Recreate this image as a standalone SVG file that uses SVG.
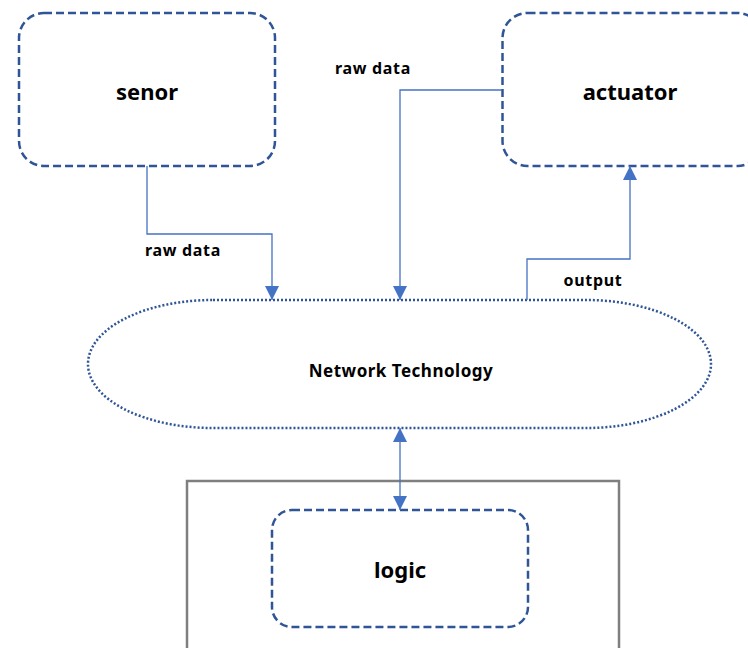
<svg xmlns="http://www.w3.org/2000/svg" width="748" height="648" viewBox="0 0 748 648">
<defs>
<style>
.box{fill:#fff;stroke:#2F5597;stroke-width:2.5;stroke-dasharray:8 4}
.net{fill:#fff;stroke:#2F5597;stroke-width:2.5;stroke-dasharray:2 2}
.wire{fill:none;stroke:#4472C4;stroke-width:1.3}
.t{font-family:"Noto Sans","Noto Sans CJK KR",sans-serif;font-weight:bold;fill:#000;text-anchor:middle}
.big{font-size:22px}
.lab{font-size:16px;letter-spacing:0.7px}
.mid{font-size:17px;letter-spacing:0.5px}
</style>
<marker id="ah" viewBox="0 0 14 14" refX="14" refY="7" markerWidth="14" markerHeight="14" markerUnits="userSpaceOnUse" orient="auto-start-reverse">
<path d="M0,0 L14,7 L0,14 Z" fill="#4472C4"/>
</marker>
</defs>
<rect width="748" height="648" fill="#fff"/>
<g id="container">
<rect x="187" y="481" width="432" height="180" fill="#fff" stroke="#7F7F7F" stroke-width="2.5"/>
</g>
<g id="senor">
<rect class="box" x="19" y="13" width="256" height="153" rx="25"/>
<text class="t big" x="147" y="100">senor</text>
</g>
<g id="actuator">
<rect class="box" x="502.5" y="13" width="260" height="153" rx="25"/>
<text class="t big" x="630" y="100">actuator</text>
</g>
<g id="network">
<rect class="net" x="88" y="300" width="623" height="128" rx="125" ry="64"/>
<text class="t mid" x="401" y="377">Network Technology</text>
</g>
<g id="logic">
<rect class="box" x="272" y="510" width="256" height="117" rx="20"/>
<text class="t big" x="400" y="578">logic</text>
</g>
<g id="connectors">
<path class="wire" d="M147,166 V234 H272 V300" marker-end="url(#ah)"/>
<path class="wire" d="M502,90 H400 V300" marker-end="url(#ah)"/>
<path class="wire" d="M527,300 V259 H630 V166" marker-end="url(#ah)"/>
<path class="wire" d="M400,428 V510" marker-start="url(#ah)" marker-end="url(#ah)"/>
<text class="t lab" x="183" y="256">raw data</text>
<text class="t lab" x="373" y="74">raw data</text>
<text class="t lab" x="593" y="286">output</text>
</g>
</svg>
